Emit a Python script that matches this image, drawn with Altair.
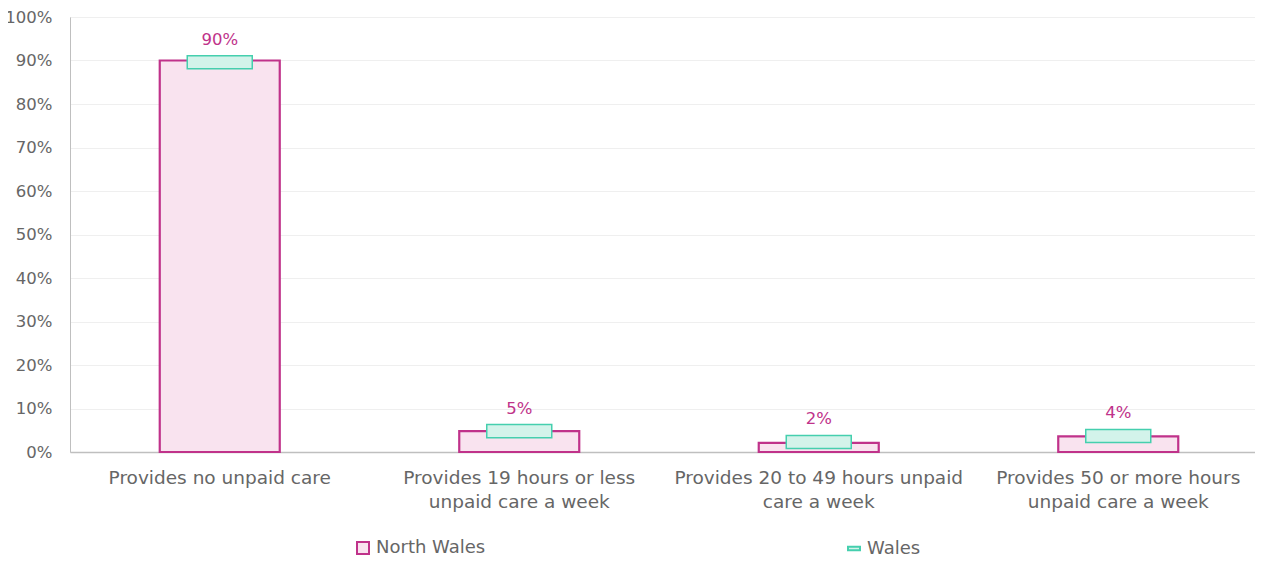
import altair as alt
import pandas as pd

categories = [
    "Provides no unpaid care",
    "Provides 19 hours or less unpaid care a week",
    "Provides 20 to 49 hours unpaid care a week",
    "Provides 50 or more hours unpaid care a week",
]
label_lines = [
    ["Provides no unpaid care"],
    ["Provides 19 hours or less", "unpaid care a week"],
    ["Provides 20 to 49 hours unpaid", "care a week"],
    ["Provides 50 or more hours", "unpaid care a week"],
]
north_wales = [90.0, 4.8, 2.1, 3.6]
wales = [89.6, 4.8, 2.3, 3.7]
value_labels = ["90%", "5%", "2%", "4%"]
series = ["North Wales", "Wales"]

MAGENTA = "#c0328a"
PINK = "#f9e3ef"
TEAL = "#45cfae"
LTEAL = "#d3f3ea"
GRAY = "#666666"
FONT = "DejaVu Sans"

df = pd.DataFrame({
    "category": categories,
    "north_wales": north_wales,
    "wales": wales,
    "label": value_labels,
})
leg_df = pd.DataFrame({"series": series, "category": [categories[0]] * 2, "v": [0, 0]})

# label expression for wrapped axis labels
expr = "datum.label"
for cat, lines in reversed(list(zip(categories, label_lines))):
    arr = "[" + ",".join("'" + l + "'" for l in lines) + "]"
    expr = f"datum.label == '{cat}' ? {arr} : ({expr})"

xscale = alt.Scale(domain=categories, range=[0, 1198], paddingInner=0, paddingOuter=0)
xaxis = alt.Axis(
    title=None, labelAngle=0, labelAlign="center", ticks=False, labelPadding=16,
    labelExpr=expr, labelLineHeight=24, labelFontSize=18.5, labelColor=GRAY,
    labelFont=FONT, domainColor="#bfbfbf", domainWidth=1.5, grid=False, labelLimit=400,
)
x = alt.X("category:N", sort=categories, scale=xscale, axis=xaxis)
yscale = alt.Scale(domain=[0, 100], nice=False)
yaxis = alt.Axis(
    title=None, values=list(range(0, 101, 10)), labelExpr="datum.value + '%'",
    ticks=False, labelPadding=18, labelFontSize=16.5, labelColor=GRAY, labelFont=FONT,
    gridColor="#efefef", gridWidth=1, domainColor="#bfbfbf", domainWidth=1,
)

base = alt.Chart(df)

bars = base.mark_bar(size=120, fill=PINK, stroke=MAGENTA, strokeWidth=2.2).encode(
    x=x,
    y=alt.Y("north_wales:Q", scale=yscale, axis=yaxis),
)

wales_box = base.transform_calculate(
    lo="datum.wales - 1.5", hi="datum.wales + 1.5"
).mark_bar(size=65, fill=LTEAL, stroke=TEAL, strokeWidth=1.5).encode(
    x=x,
    y=alt.Y("lo:Q", scale=yscale, axis=yaxis),
    y2="hi:Q",
)

labels = base.transform_calculate(
    hi="datum.wales + 1.5"
).mark_text(
    baseline="bottom", dy=-8, fontSize=16.5, font=FONT, color=MAGENTA
).encode(
    x=x,
    y=alt.Y("hi:Q", scale=yscale, axis=yaxis),
    text="label:N",
)

leg = alt.Legend(
    title=None, orient="none", legendX=284, legendY=522,
    direction="horizontal", columns=2, columnPadding=358,
    symbolSize=144, symbolStrokeWidth=2, symbolOpacity=1,
    labelFontSize=18, labelFont=FONT, labelColor=GRAY, labelOffset=4,
    labelLimit=300,
)

legend_pts = alt.Chart(leg_df).mark_point(filled=True, opacity=0).encode(
    x=x,
    y=alt.Y("v:Q", scale=yscale, axis=yaxis),
    shape=alt.Shape("series:N", scale=alt.Scale(domain=series, range=["square", "M-1,-0.3L1,-0.3L1,0.3L-1,0.3Z"]), legend=leg),
    fill=alt.Fill("series:N", scale=alt.Scale(domain=series, range=[PINK, LTEAL]), legend=leg),
    stroke=alt.Stroke("series:N", scale=alt.Scale(domain=series, range=[MAGENTA, TEAL]), legend=leg),
)

chart = alt.layer(legend_pts, bars, wales_box, labels).properties(
    width=1185, height=435,
    autosize=alt.AutoSizeParams(type="none"),
    padding={"left": 62, "top": 9, "right": 0, "bottom": 107},
).configure_view(stroke=None).configure(font=FONT)

chart.save("out.html", embed_options={"renderer": "svg", "actions": False})
